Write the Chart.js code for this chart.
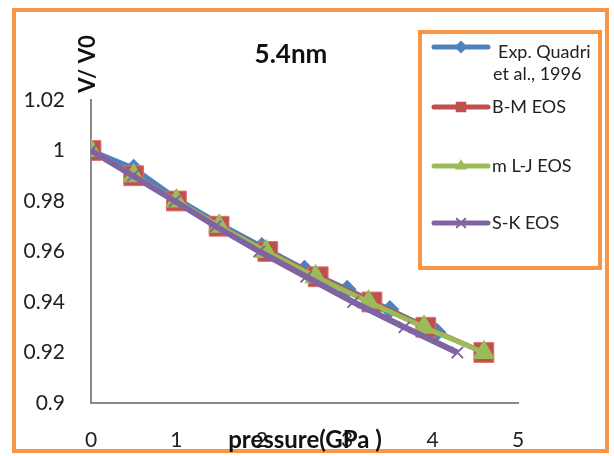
<!DOCTYPE html>
<html>
<head>
<meta charset="utf-8">
<script src="https://cdn.jsdelivr.net/npm/chart.js@4.4.1/dist/chart.umd.min.js"></script>
<style>
  html, body { margin: 0; padding: 0; background: #fff; }
  #wrap { width: 614px; height: 456px; position: relative; }
</style>
</head>
<body>
<div id="wrap"><canvas id="eosChart" width="614" height="456"></canvas></div>
<script>
// V/V0 vs pressure, 5.4nm
const seriesNames = ['Exp. Quadri et al., 1996', 'B-M EOS', 'm L-J EOS', 'S-K EOS'];
const seriesColors = ['#4F81BD', '#C0504D', '#9BBB59', '#8064A2'];

const pressureExp = [0, 0.5, 1, 1.5, 2, 2.5, 3, 3.5, 4.05];
const volumeExp = [1, 0.993, 0.981, 0.971, 0.962, 0.953, 0.945, 0.937, 0.928];

const pressureBM = [0, 0.5, 1, 1.5, 2.07, 2.66, 3.29, 3.92, 4.6];
const volumeBM = [1, 0.99, 0.98, 0.97, 0.96, 0.95, 0.94, 0.93, 0.92];

const pressureLJ = [0, 0.5, 1, 1.5, 2.05, 2.63, 3.25, 3.9, 4.6];
const volumeLJ = [1, 0.99, 0.98, 0.97, 0.96, 0.95, 0.94, 0.93, 0.92];

const pressureSK = [0, 0.49, 0.98, 1.46, 1.97, 2.52, 3.07, 3.67, 4.29];
const volumeSK = [1, 0.99, 0.98, 0.97, 0.96, 0.95, 0.94, 0.93, 0.92];

const xTicks = [0, 1, 2, 3, 4, 5];
const yTicks = [0.9, 0.92, 0.94, 0.96, 0.98, 1, 1.02];

const chartTitle = '5.4nm';
const xTitle = 'pressure(GPa )';
const yTitle = 'V/ V0';

const FONT = 'Lato, "Open Sans", sans-serif';
const ORANGE = '#F79646';

function toPoints(xs, ys) {
    return xs.map((x, i) => ({ x: x, y: ys[i] }));
}

// frame, title, axis titles and legend drawn by hand
const decorPlugin = {
    id: 'decor',
    beforeDraw(chart) {
        const ctx = chart.ctx;
        ctx.save();
        ctx.fillStyle = '#fff';
        ctx.fillRect(0, 0, chart.width, chart.height);
        ctx.restore();
    },
    afterDraw(chart) {
        const ctx = chart.ctx;
        ctx.save();

        // outer border
        ctx.strokeStyle = ORANGE;
        ctx.lineWidth = 4;
        ctx.strokeRect(14, 10, 593, 441);

        // title
        ctx.fillStyle = '#111';
        ctx.font = 'bold 26px ' + FONT;
        ctx.textAlign = 'center';
        ctx.textBaseline = 'middle';
        ctx.fillText(chartTitle, 291, 55);

        // x title (overlaps tick labels like the original)
        ctx.font = 'bold 24px ' + FONT;
        ctx.fillText(xTitle, 305, 440);

        // y title rotated
        ctx.font = 'bold 22px ' + FONT;
        ctx.save();
        ctx.translate(88, 64);
        ctx.rotate(-Math.PI / 2);
        ctx.fillText(yTitle, 0, 0);
        ctx.restore();

        // legend box
        ctx.strokeStyle = ORANGE;
        ctx.lineWidth = 4;
        ctx.strokeRect(420, 32, 180, 236);

        const rows = [47, 107, 166, 223];
        const styles = ['rectRot', 'rect', 'triangle', 'crossRot'];
        const radii = [5, 6, 5, 6];
        ctx.font = '18px ' + FONT;
        ctx.textAlign = 'left';
        ctx.textBaseline = 'middle';
        rows.forEach((y, i) => {
            ctx.strokeStyle = seriesColors[i];
            ctx.lineWidth = 5;
            ctx.lineCap = 'round';
            ctx.beginPath();
            ctx.moveTo(434, y);
            ctx.lineTo(488, y);
            ctx.stroke();
            ctx.fillStyle = seriesColors[i];
            ctx.lineWidth = 2;
            Chart.helpers.drawPoint(ctx, { pointStyle: styles[i], radius: radii[i], rotation: 0, borderWidth: 2 }, 461, y);
            ctx.fill();
            ctx.fillStyle = '#222';
            if (i === 0) {
                ctx.fillText('Exp. Quadri', 498, 52);
                ctx.fillText('et al., 1996', 493, 74);
            } else {
                ctx.fillText(seriesNames[i], 492, y);
            }
        });

        ctx.restore();
    }
};

const ctx = document.getElementById('eosChart').getContext('2d');
const eosChart = new Chart(ctx, {
    type: 'scatter',
    data: {
        datasets: [{
            label: seriesNames[0],
            data: toPoints(pressureExp, volumeExp),
            showLine: true,
            borderColor: seriesColors[0],
            backgroundColor: seriesColors[0],
            borderWidth: 5,
            pointStyle: 'rectRot',
            pointRadius: 6,
            order: 4
        }, {
            label: seriesNames[1],
            data: toPoints(pressureBM, volumeBM),
            showLine: true,
            borderColor: seriesColors[1],
            backgroundColor: seriesColors[1],
            borderWidth: 5,
            pointStyle: 'rect',
            pointRadius: 14,
            pointBorderColor: '#D9716E',
            pointBorderWidth: 1,
            order: 3
        }, {
            label: seriesNames[2],
            data: toPoints(pressureLJ, volumeLJ),
            showLine: true,
            borderColor: seriesColors[2],
            backgroundColor: seriesColors[2],
            borderWidth: 5,
            pointStyle: 'triangle',
            pointRadius: 8,
            order: 2
        }, {
            label: seriesNames[3],
            data: toPoints(pressureSK, volumeSK),
            showLine: true,
            borderColor: seriesColors[3],
            backgroundColor: seriesColors[3],
            borderWidth: 6,
            pointStyle: 'crossRot',
            pointRadius: 8,
            pointBorderWidth: 2,
            order: 1
        }]
    },
    options: {
        responsive: false,
        animation: false,
        layout: {
            padding: { top: 100, right: 96, left: 0, bottom: 0 }
        },
        plugins: {
            legend: { display: false },
            tooltip: { enabled: false },
            title: { display: false }
        },
        scales: {
            x: {
                type: 'linear',
                min: 0,
                max: 5,
                afterFit: s => { s.height = 53; },
                afterBuildTicks: s => { s.ticks = xTicks.map(v => ({ value: v })); },
                ticks: {
                    padding: 25,
                    color: '#222',
                    font: { family: FONT, size: 21 }
                },
                grid: { display: false, drawTicks: false },
                border: { display: true, color: '#888', width: 2 }
            },
            y: {
                min: 0.9,
                max: 1.02,
                afterFit: s => { s.width = 91; },
                afterBuildTicks: s => { s.ticks = yTicks.map(v => ({ value: v })); },
                ticks: {
                    padding: 26,
                    color: '#222',
                    font: { family: FONT, size: 21 },
                    callback: v => String(+v.toFixed(2))
                },
                grid: { display: false, drawTicks: false },
                border: { display: true, color: '#888', width: 2 }
            }
        }
    },
    plugins: [decorPlugin]
});

window.eosChart = eosChart;
</script>
</body>
</html>
